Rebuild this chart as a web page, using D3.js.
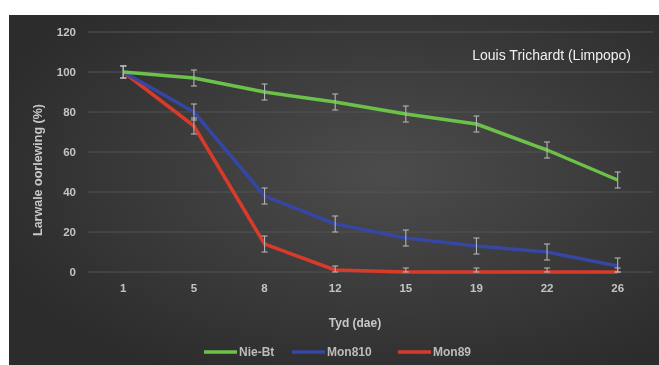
<!DOCTYPE html>
<html>
<head>
<meta charset="UTF-8">
<script src="https://d3js.org/d3.v7.min.js"></script>
<style>
  body { margin: 0; background: #fff; }
  svg { display: block; }
</style>
</head>
<body>
<svg width="659" height="365"></svg>
<script>
// data
const days = ["1", "5", "8", "12", "15", "19", "22", "26"];
const nieBt = [100, 97, 90, 85, 79, 74, 61, 46];
const mon810 = [100, 80, 38, 24, 17, 13, 10, 3];
const mon89 = [100, 73, 14, 1, 0, 0, 0, 0];
const nieBtErr = [3, 4, 4, 4, 4, 4, 4, 4];
const mon810Err = [3, 4, 4, 4, 4, 4, 4, 4];
const mon89Err = [3, 4, 4, 2, 2, 2, 2, 2];
const yTicks = [0, 20, 40, 60, 80, 100, 120];

const series = [
  { name: "Nie-Bt", values: nieBt, err: nieBtErr, color: "#6cc24a" },
  { name: "Mon810", values: mon810, err: mon810Err, color: "#3646a2" },
  { name: "Mon89", values: mon89, err: mon89Err, color: "#d93a2c" }
];

const svg = d3.select("svg");
const defs = svg.append("defs");
const grad = defs.append("radialGradient").attr("id", "bg")
  .attr("cx", "58%").attr("cy", "45%").attr("r", "65%");
grad.append("stop").attr("offset", "0%").attr("stop-color", "#4c4c4c");
grad.append("stop").attr("offset", "100%").attr("stop-color", "#2c2c2c");

const blur = defs.append("filter").attr("id", "soft");
blur.append("feGaussianBlur").attr("stdDeviation", 0.6);

svg.append("rect").attr("x", 9).attr("y", 15).attr("width", 650).attr("height", 350)
  .attr("fill", "url(#bg)");

const mLeft = 88, mRight = 653, mTop = 32, mBottom = 272;

const x = d3.scaleBand().domain(days).range([mLeft, mRight]);
const y = d3.scaleLinear().domain([0, 120]).range([mBottom, mTop]);

const g = svg.append("g").attr("filter", "url(#soft)");

// gridlines
g.append("g").selectAll("line").data(yTicks).join("line")
  .attr("x1", mLeft).attr("x2", mRight)
  .attr("y1", d => y(d)).attr("y2", d => y(d))
  .attr("stroke", "#555").attr("stroke-width", 1);

// y axis
const yAxis = g.append("g").attr("transform", `translate(${mLeft - 12},0)`)
  .call(d3.axisLeft(y).tickValues(yTicks).tickSize(0).tickPadding(0));
yAxis.select(".domain").remove();
yAxis.selectAll("text").attr("fill", "#c4c4c4").attr("font-size", 11.5)
  .attr("font-weight", "bold").attr("font-family", "Arial, sans-serif");

// x axis
const xAxis = g.append("g").attr("transform", `translate(0,${mBottom + 9})`)
  .call(d3.axisBottom(x).tickSize(0).tickPadding(3));
xAxis.select(".domain").remove();
xAxis.selectAll("text").attr("fill", "#c4c4c4").attr("font-size", 11.5)
  .attr("font-weight", "bold").attr("font-family", "Arial, sans-serif");

const cx = d => x(d) + x.bandwidth() / 2;

const line = d3.line()
  .x((v, i) => cx(days[i]))
  .y(v => y(v));

series.slice().reverse().forEach(s => {
  g.append("path").datum(s.values)
    .attr("d", line)
    .attr("fill", "none")
    .attr("stroke", s.color)
    .attr("stroke-width", 3.5)
    .attr("stroke-linejoin", "round");
});

// error bars
series.forEach(s => {
  const eb = g.append("g").attr("stroke", "#b5b5b5").attr("stroke-width", 1.1);
  s.values.forEach((v, i) => {
    const px = cx(days[i]);
    const lo = Math.max(0, v - s.err[i]), hi = v + s.err[i];
    eb.append("line").attr("x1", px).attr("x2", px).attr("y1", y(lo)).attr("y2", y(hi));
    eb.append("line").attr("x1", px - 3).attr("x2", px + 3).attr("y1", y(hi)).attr("y2", y(hi));
    eb.append("line").attr("x1", px - 3).attr("x2", px + 3).attr("y1", y(lo)).attr("y2", y(lo));
  });
});

// axis titles
g.append("text").attr("x", 355).attr("y", 327).attr("text-anchor", "middle")
  .attr("fill", "#c8c8c8").attr("font-size", 12).attr("font-weight", "bold")
  .attr("font-family", "Arial, sans-serif").text("Tyd (dae)");

g.append("text").attr("transform", "translate(42,170) rotate(-90)")
  .attr("text-anchor", "middle")
  .attr("fill", "#c8c8c8").attr("font-size", 12.5).attr("font-weight", "bold")
  .attr("font-family", "Arial, sans-serif").text("Larwale oorlewing (%)");

// site label
svg.append("text").attr("x", 631).attr("y", 60).attr("text-anchor", "end")
  .attr("fill", "#f0f0f0").attr("font-size", 14)
  .attr("font-family", "Arial, sans-serif").text("Louis Trichardt (Limpopo)");

// legend
const legX = [204, 292, 398];
const leg = g.append("g");
series.forEach((s, i) => {
  leg.append("line").attr("x1", legX[i]).attr("x2", legX[i] + 33)
    .attr("y1", 352).attr("y2", 352)
    .attr("stroke", s.color).attr("stroke-width", 3.5);
  leg.append("text").attr("x", legX[i] + 35).attr("y", 356)
    .attr("fill", "#bcbcbc").attr("font-size", 12).attr("font-weight", "bold")
    .attr("font-family", "Arial, sans-serif").text(s.name);
});
</script>
</body>
</html>
